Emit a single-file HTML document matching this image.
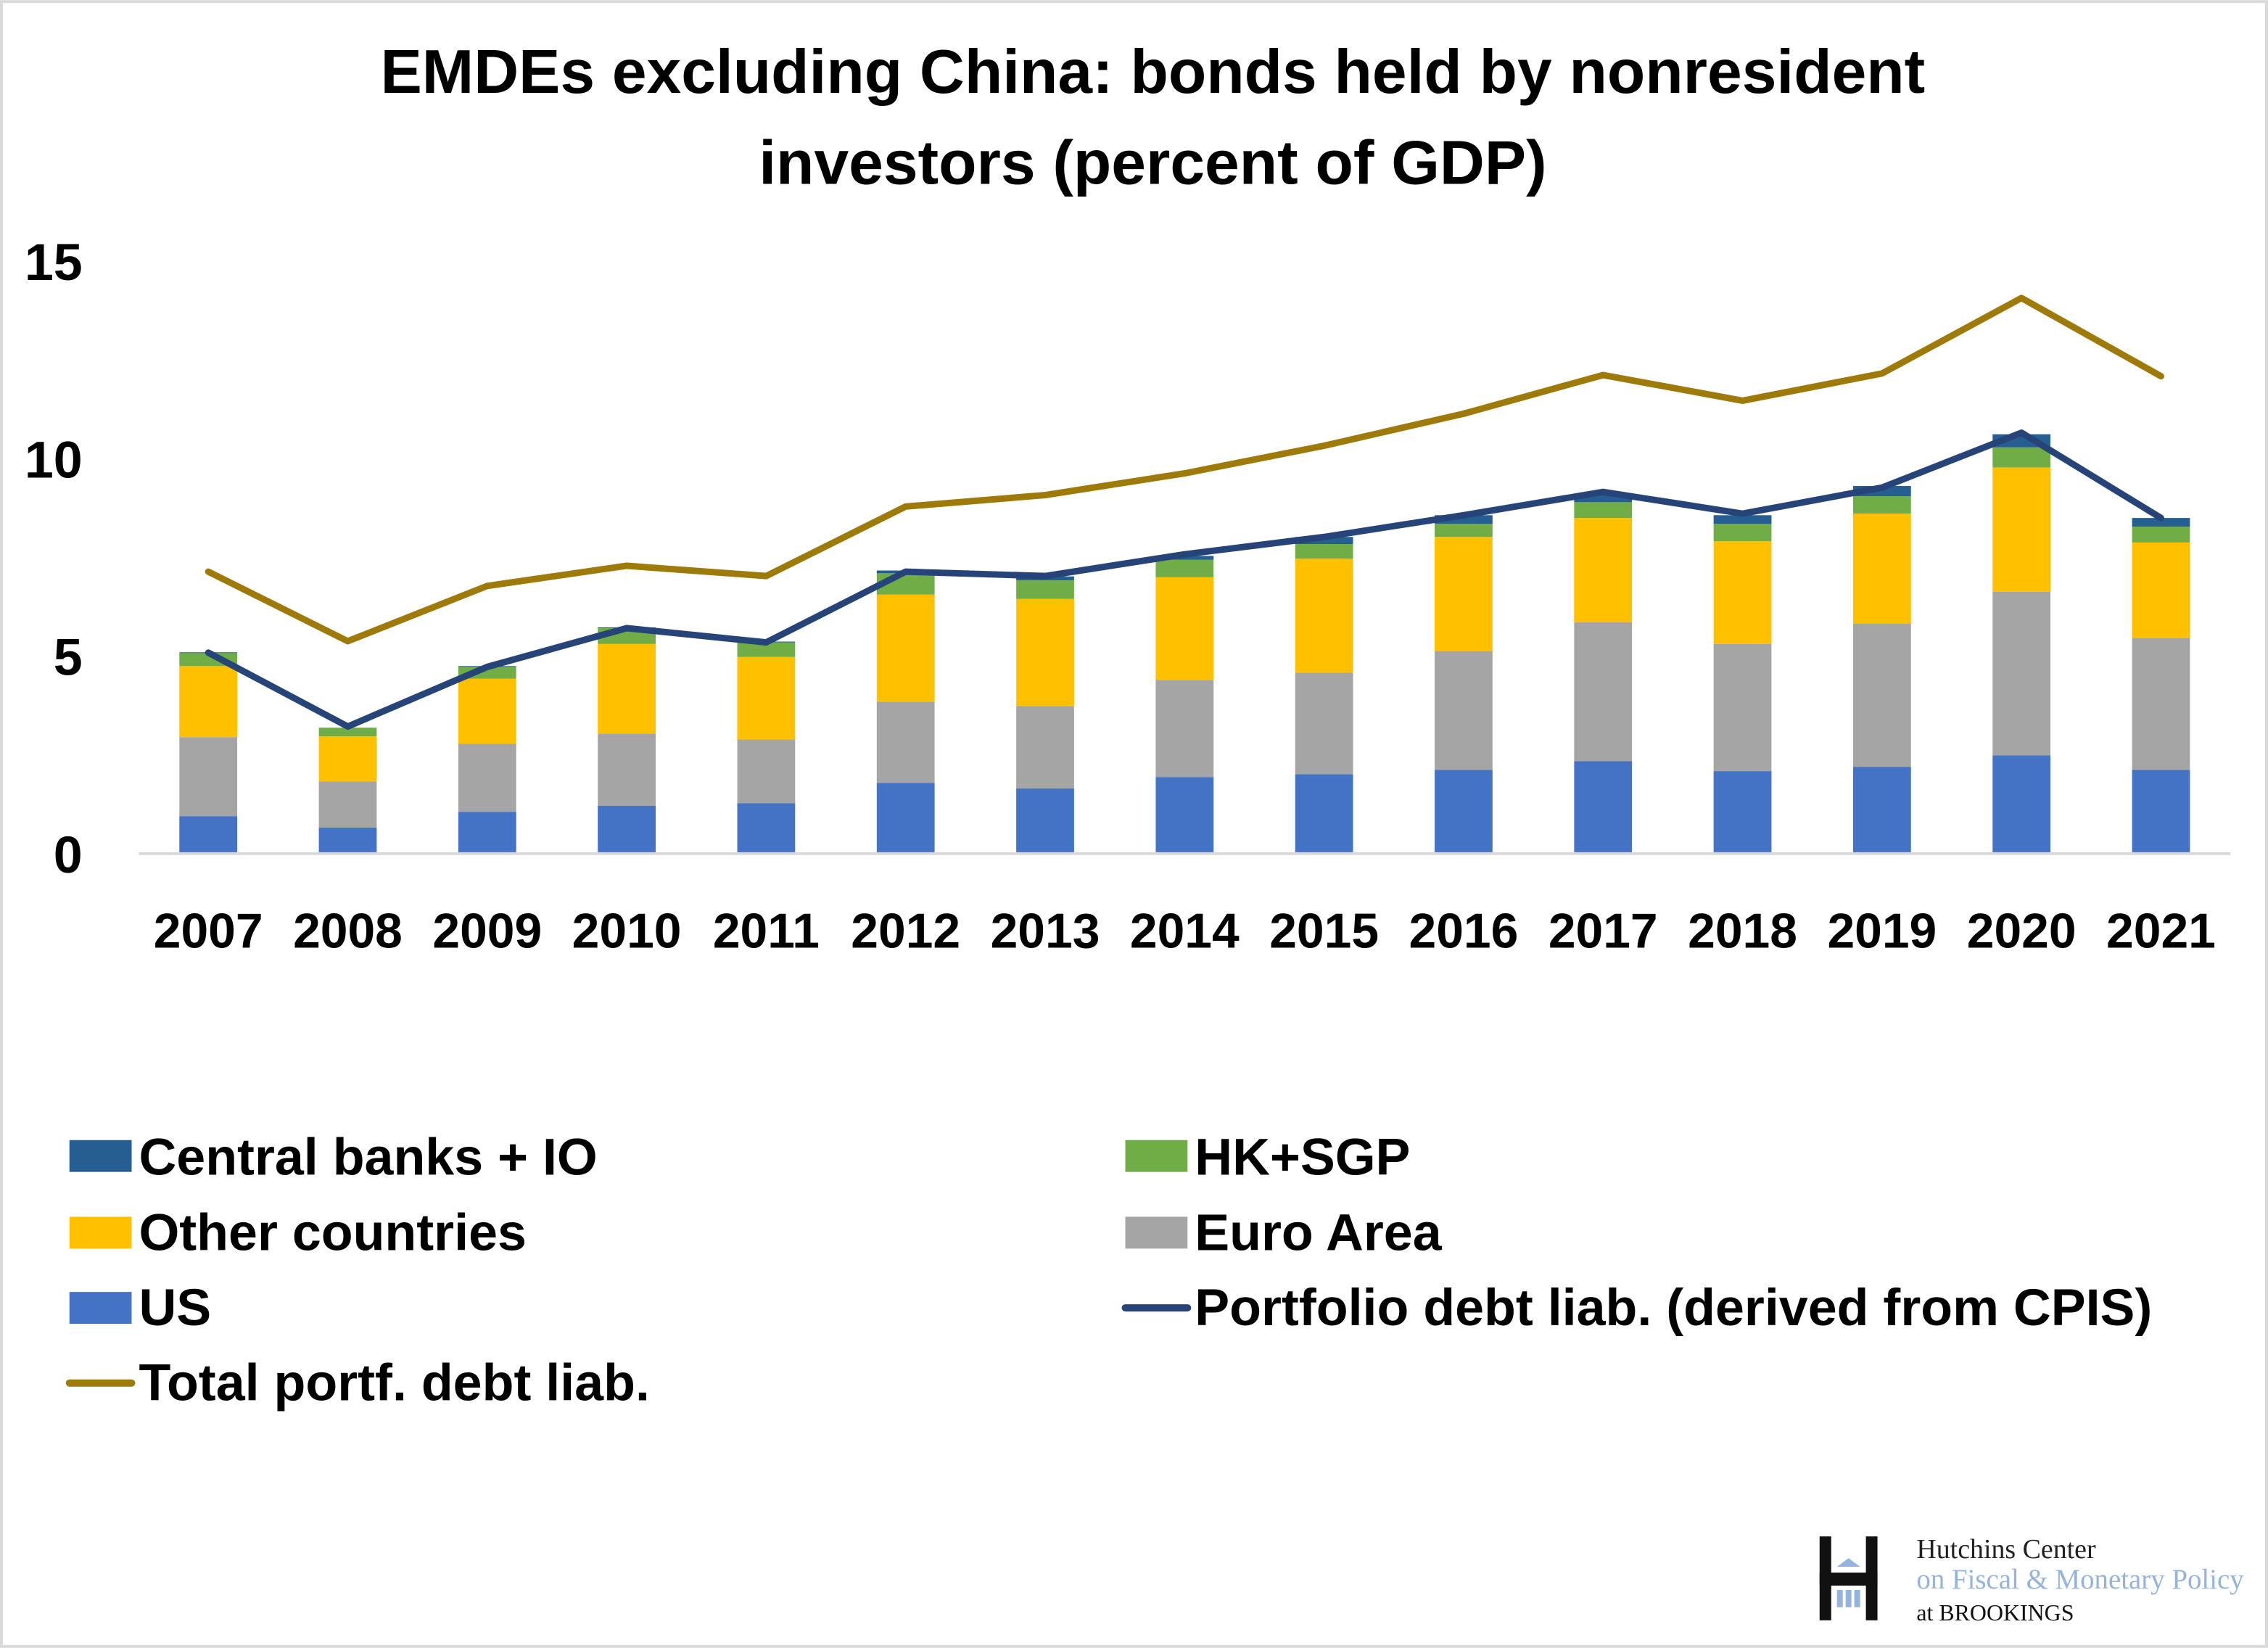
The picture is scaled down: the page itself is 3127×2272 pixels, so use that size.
<!DOCTYPE html>
<html><head><meta charset="utf-8"><style>
html,body{margin:0;padding:0;background:#fff}
svg{display:block}
text{font-family:"Liberation Sans",sans-serif}
</style></head><body>
<svg id="chart" xmlns="http://www.w3.org/2000/svg" width="3127" height="2272" viewBox="0 0 1568 1139">
<rect x="1" y="1" width="1566" height="1137" fill="#fff" stroke="#d9d9d9" stroke-width="2"/>
<text x="797" y="64" text-anchor="middle" font-size="43" font-weight="bold">EMDEs excluding China: bonds held by nonresident</text>
<text x="797" y="127" text-anchor="middle" font-size="43" font-weight="bold">investors (percent of GDP)</text>
<g id="yaxis"></g>
<g id="bars"></g>
<line x1="96" y1="590" x2="1542" y2="590" stroke="#d9d9d9" stroke-width="2"/>
<g id="lines"></g>
<g id="xaxis"></g>
<g font-size="36" font-weight="bold">
 <g><rect x="48" y="788" width="43" height="22" fill="#255e91"/><text x="96" y="812">Central banks + IO</text></g>
 <g><rect x="778" y="788" width="43" height="22" fill="#70ad47"/><text x="826" y="812">HK+SGP</text></g>
 <g><rect x="48" y="841" width="43" height="22" fill="#ffc000"/><text x="96" y="864">Other countries</text></g>
 <g><rect x="778" y="841" width="43" height="22" fill="#a5a5a5"/><text x="826" y="864">Euro Area</text></g>
 <g><rect x="48" y="893" width="43" height="22" fill="#4472c4"/><text x="96" y="916">US</text></g>
 <g><line x1="778" y1="904" x2="821" y2="904" stroke="#264478" stroke-width="5" stroke-linecap="round"/><text x="826" y="916">Portfolio debt liab. (derived from CPIS)</text></g>
 <g><line x1="48" y1="956" x2="91" y2="956" stroke="#9e7a0a" stroke-width="5" stroke-linecap="round"/><text x="96" y="968">Total portf. debt liab.</text></g>
</g>
<g>
 <rect x="1258" y="1062" width="8" height="58" fill="#111"/>
 <rect x="1290" y="1062" width="8" height="58" fill="#111"/>
 <rect x="1258" y="1087" width="40" height="9" fill="#111"/>
 <polygon points="1270,1083 1278,1077 1286,1083" fill="#94b3dd"/>
 <rect x="1270" y="1099" width="4" height="12" fill="#94b3dd"/>
 <rect x="1276" y="1099" width="4" height="12" fill="#94b3dd"/>
 <rect x="1282" y="1099" width="4" height="12" fill="#94b3dd"/>
 <text x="1325" y="1077" font-size="19" fill="#222" style="font-family:'Liberation Serif',serif">Hutchins Center</text>
 <text x="1325" y="1098" font-size="19.5" fill="#94b3dd" style="font-family:'Liberation Serif',serif">on Fiscal &amp; Monetary Policy</text>
 <text x="1325" y="1120" font-size="16" fill="#111" style="font-family:'Liberation Serif',serif">at BROOKINGS</text>
</g>
</svg>
<script>
const years=["2007","2008","2009","2010","2011","2012","2013","2014","2015","2016","2017","2018","2019","2020","2021"];
const usVals=[0.95,0.66,1.06,1.21,1.28,1.79,1.65,1.94,2.01,2.12,2.34,2.09,2.2,2.49,2.12];
const euroVals=[2.0,1.17,1.72,1.83,1.61,2.06,2.09,2.46,2.57,3.01,3.52,3.22,3.62,4.14,3.34];
const otherVals=[1.8,1.14,1.65,2.27,2.09,2.71,2.71,2.6,2.89,2.89,2.64,2.6,2.79,3.15,2.42];
const hkVals=[0.33,0.22,0.3,0.4,0.37,0.54,0.47,0.44,0.37,0.33,0.4,0.44,0.44,0.51,0.4];
const cbVals=[0.02,0,0.02,0.02,0.02,0.07,0.1,0.1,0.18,0.22,0.22,0.22,0.26,0.33,0.22];
const portfolioVals=[5.09,3.22,4.73,5.71,5.35,7.14,7.03,7.58,8.02,8.57,9.16,8.61,9.27,10.66,8.5];
const totalVals=[7.14,5.38,6.78,7.29,7.03,8.79,9.08,9.63,10.33,11.14,12.12,11.47,12.16,14.07,12.09];
const yTicks=[0,5,10,15];
const NS="http://www.w3.org/2000/svg";
const y0=590,pxPerUnit=27.3;
function yScale(v){return y0-v*pxPerUnit;}
function xScale(i){return 144+i*96.43;}
const barW=40;
function mk(tag,attrs,parent){const e=document.createElementNS(NS,tag);for(const k in attrs)e.setAttribute(k,attrs[k]);parent.appendChild(e);return e;}
const yg=document.getElementById('yaxis');
yTicks.forEach(t=>{
 const e=mk('text',{x:57,y:yScale(t)+13,'text-anchor':'end','font-size':36,'font-weight':'bold'},yg);
 
 
 e.textContent=t;
});
const xg=document.getElementById('xaxis');
years.forEach((yr,i)=>{
 const e=mk('text',{x:xScale(i),y:655,'text-anchor':'middle','font-size':34,'font-weight':'bold'},xg);
 
 
 e.textContent=yr;
});
const series=[["us",usVals,"#4472c4"],["euro",euroVals,"#a5a5a5"],["other",otherVals,"#ffc000"],["hk-sgp",hkVals,"#70ad47"],["central-banks",cbVals,"#255e91"]];
const bg=document.getElementById('bars');
years.forEach((yr,i)=>{
 let acc=0;
 series.forEach(([nm,vals,col])=>{
  const v=vals[i];
  const r=mk('rect',{x:xScale(i)-barW/2,y:yScale(acc+v),width:barW,height:v*pxPerUnit,fill:col},bg);
  
  
  acc+=v;
 });
});
const lg=document.getElementById('lines');
function line(vals,col,name){
 const p=mk('polyline',{points:vals.map((v,i)=>xScale(i)+','+yScale(v)).join(' '),fill:'none',stroke:col,'stroke-width':4.5,'stroke-linejoin':'round','stroke-linecap':'round'},lg);
 
 
}
line(totalVals,'#9e7a0a','total-portfolio-line');
line(portfolioVals,'#264478','portfolio-debt-line');
</script>
</body></html>
